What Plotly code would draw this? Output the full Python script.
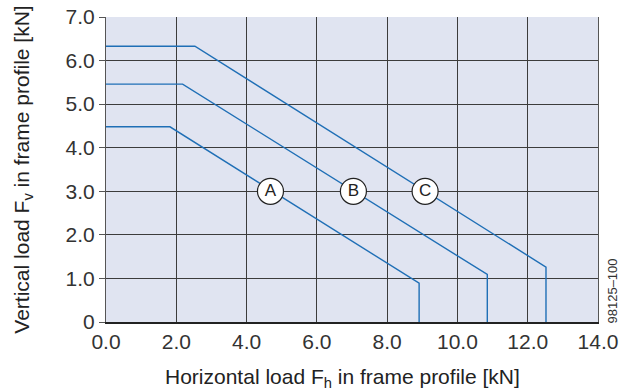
import plotly.graph_objects as go

# Data
curve_names = ["A", "B", "C"]
curve_x = [
    [0.0, 1.82, 8.91, 8.91],
    [0.0, 2.18, 10.85, 10.85],
    [0.0, 2.53, 12.52, 12.52],
]
curve_y = [
    [4.48, 4.48, 0.89, 0.0],
    [5.46, 5.46, 1.09, 0.0],
    [6.33, 6.33, 1.26, 0.0],
]
label_x = [4.68, 7.04, 9.08]
label_y = [3.0, 3.0, 3.0]

x_ticks = [0, 2, 4, 6, 8, 10, 12, 14]
x_tick_labels = ["0.0", "2.0", "4.0", "6.0", "8.0", "10.0", "12.0", "14.0"]
y_ticks = [0, 1, 2, 3, 4, 5, 6, 7]
y_tick_labels = ["0", "1.0", "2.0", "3.0", "4.0", "5.0", "6.0", "7.0"]

LINE = "#1f6fb6"
GRID = "#3c3c3c"
FONT = "Liberation Sans, Arial, sans-serif"

fig = go.Figure()
for name, xs, ys in zip(curve_names, curve_x, curve_y):
    fig.add_trace(go.Scatter(x=xs, y=ys, mode="lines", name=name,
                             line=dict(color=LINE, width=1.4), showlegend=False,
                             hoverinfo="skip"))

fig.add_trace(go.Scatter(
    x=label_x, y=label_y, mode="markers+text", text=curve_names,
    textposition="middle center",
    textfont=dict(family=FONT, size=17, color="#222222"),
    marker=dict(size=26, color="white", line=dict(color="#222222", width=1.2)),
    showlegend=False, hoverinfo="skip"))

fig.update_layout(
    width=619, height=392,
    margin=dict(l=106, r=21, t=17, b=70, autoexpand=False),
    paper_bgcolor="white", plot_bgcolor="#e0e4f1",
    font=dict(family=FONT, size=21, color="#333333"),
    xaxis=dict(range=[0, 14], tickvals=x_ticks, ticktext=x_tick_labels,
               tickfont=dict(size=21, color="#333333"), automargin=False,
               showgrid=True, gridcolor=GRID, gridwidth=1,
               showline=True, linecolor="#222222", linewidth=1.5, mirror=False,
               ticks="", zeroline=False),
    yaxis=dict(range=[0, 7], tickvals=y_ticks, ticktext=y_tick_labels,
               tickfont=dict(size=21, color="#333333"), automargin=False,
               showgrid=True, gridcolor=GRID, gridwidth=1,
               showline=True, linecolor="#555555", linewidth=1, mirror=True,
               ticks="outside", ticklen=6, tickcolor="#555555", zeroline=False,
               title=dict(text="Vertical load F<sub>v</sub> in frame profile [kN]",
                          font=dict(size=21, color="#222222"), standoff=30)),
)

fig.add_annotation(text="Horizontal load F<sub>h</sub> in frame profile [kN]",
                   xref="paper", yref="paper", x=0.48, y=-0.182,
                   xanchor="center", yanchor="middle", showarrow=False,
                   font=dict(family=FONT, size=21, color="#222222"))

fig.add_annotation(text="98125\u2013100", xref="paper", yref="paper",
                   x=1.0285, y=0.10, xanchor="center", yanchor="middle",
                   textangle=-90, showarrow=False,
                   font=dict(family=FONT, size=13, color="#333333"))

fig.write_html("out.html", config={"displayModeBar": False},
               post_script="document.body.style.margin='0';document.body.style.padding='0';")
